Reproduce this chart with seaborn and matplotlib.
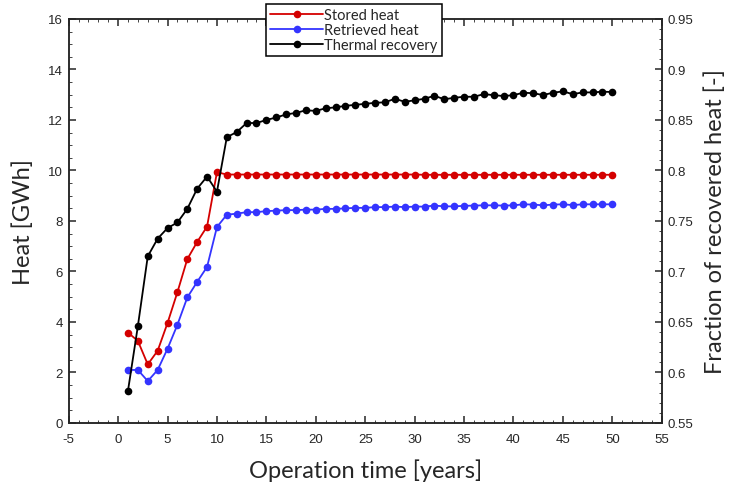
import matplotlib
matplotlib.use("Agg")
import matplotlib.pyplot as plt
import seaborn as sns
import pandas as pd
from matplotlib.ticker import MultipleLocator

years = list(range(1, 51))

stored_heat = [3.58, 3.25, 2.32, 2.86, 3.96, 5.18, 6.49, 7.17, 7.78, 9.93,
               9.84, 9.84, 9.84, 9.84, 9.84, 9.84, 9.84, 9.84, 9.84, 9.84,
               9.84, 9.84, 9.84, 9.84, 9.84, 9.84, 9.84, 9.84, 9.84, 9.84,
               9.83, 9.83, 9.83, 9.83, 9.83, 9.83, 9.83, 9.83, 9.83, 9.83,
               9.83, 9.83, 9.83, 9.83, 9.83, 9.83, 9.83, 9.83, 9.83, 9.83]

retrieved_heat = [2.10, 2.10, 1.66, 2.10, 2.94, 3.89, 4.97, 5.59, 6.18, 7.76,
                  8.25, 8.29, 8.35, 8.35, 8.39, 8.41, 8.43, 8.43, 8.45, 8.45,
                  8.48, 8.48, 8.50, 8.52, 8.52, 8.55, 8.55, 8.57, 8.55, 8.57,
                  8.57, 8.61, 8.58, 8.58, 8.60, 8.61, 8.62, 8.62, 8.61, 8.62,
                  8.66, 8.65, 8.62, 8.65, 8.66, 8.63, 8.66, 8.66, 8.66, 8.66]

thermal_recovery = [0.582, 0.646, 0.715, 0.7325, 0.743, 0.7485, 0.762, 0.782, 0.794, 0.779,
                    0.833, 0.838, 0.847, 0.847, 0.850, 0.8525, 0.8555, 0.857, 0.8596, 0.859,
                    0.8616, 0.8625, 0.864, 0.865, 0.866, 0.867, 0.8675, 0.871, 0.868, 0.8695,
                    0.871, 0.874, 0.8705, 0.872, 0.873, 0.873, 0.8756, 0.8746, 0.8737, 0.8746,
                    0.877, 0.8765, 0.8747, 0.877, 0.8783, 0.8756, 0.8773, 0.8773, 0.878, 0.8777]

df = pd.DataFrame({"year": years, "stored": stored_heat,
                   "retrieved": retrieved_heat, "recovery": thermal_recovery})

sns.set_style("ticks")
plt.rcParams["font.family"] = ["Liberation Sans", "DejaVu Sans"]
plt.rcParams["axes.unicode_minus"] = False

fig = plt.figure(figsize=(7.41, 4.85), dpi=100)
ax = fig.add_axes([0.0927, 0.1258, 0.8003, 0.833])
ax2 = ax.twinx()

red = "#d40000"
blue = "#3434ff"
line_kw = dict(marker="o", markersize=5.5, linewidth=1.3, markeredgewidth=0)

sns.lineplot(data=df, x="year", y="stored", ax=ax, color=red, label="Stored heat",
             legend=False, **line_kw)
sns.lineplot(data=df, x="year", y="retrieved", ax=ax, color=blue, label="Retrieved heat",
             legend=False, **line_kw)
sns.lineplot(data=df, x="year", y="recovery", ax=ax2, color="black", label="Thermal recovery",
             legend=False, **line_kw)

ax.set_xlim(-5, 55)
ax.set_ylim(0, 16)
ax2.set_ylim(0.55, 0.95)
ax.xaxis.set_major_locator(MultipleLocator(5))
ax.xaxis.set_minor_locator(MultipleLocator(1))
ax.yaxis.set_major_locator(MultipleLocator(2))
ax.yaxis.set_minor_locator(MultipleLocator(0.5))
ax2.yaxis.set_minor_locator(MultipleLocator(0.01))
ax2.set_yticks([0.55, 0.6, 0.65, 0.7, 0.75, 0.8, 0.85, 0.9, 0.95],
               ["0.55", "0.6", "0.65", "0.7", "0.75", "0.8", "0.85", "0.9", "0.95"])

for a in (ax, ax2):
    for s in a.spines.values():
        s.set_linewidth(1.1)
        s.set_visible(True)
ax.tick_params(axis="both", which="major", direction="in", length=5, width=1.1,
               labelsize=9.5, pad=4, top=True, right=False)
ax.tick_params(axis="x", which="major", pad=7)
ax.tick_params(axis="both", which="minor", direction="in", length=2.5, width=0.6,
               top=True, right=False)
ax2.tick_params(axis="y", which="major", direction="in", length=5, width=1.1,
                labelsize=9.5, pad=4)
ax2.tick_params(axis="y", which="minor", direction="in", length=2.5, width=0.6)

lab_font = dict(family=["Lato", "DejaVu Sans"], size=17)
ax.set_xlabel("Operation time [years]", labelpad=10, **lab_font)
ax.set_ylabel("Heat [GWh]", labelpad=10, **lab_font)
ax2.set_ylabel("Fraction of recovered heat [-]", labelpad=8, **lab_font)

h1, l1 = ax.get_legend_handles_labels()
h2, l2 = ax2.get_legend_handles_labels()
leg = ax2.legend(h1 + h2, l1 + l2, loc="upper left",
                 bbox_to_anchor=(266 / 741, 1 - 5 / 485), bbox_transform=fig.transFigure,
                 prop={"family": ["Lato", "DejaVu Sans"], "size": 10.5},
                 frameon=True, fancybox=False, framealpha=1, edgecolor="black",
                 handlelength=3.6, handletextpad=0.1, labelspacing=0.05,
                 borderpad=0.3, borderaxespad=0)
leg.get_frame().set_linewidth(1.1)
leg.set_zorder(10)

fig.savefig("out.png", dpi=100)
